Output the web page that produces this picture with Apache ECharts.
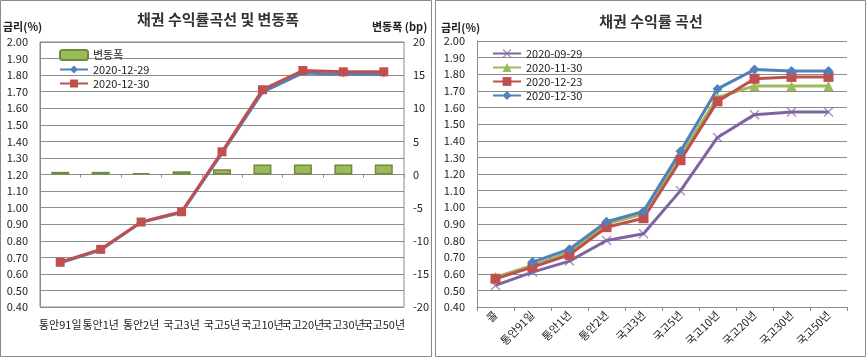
<!DOCTYPE html>
<html><head><meta charset="utf-8">
<script src="https://cdn.jsdelivr.net/npm/echarts@6/dist/echarts.min.js"></script>
<style>html,body{margin:0;padding:0;background:#fff}#c{width:866px;height:358px}</style>
</head><body><div id="c"></div>
<script>
// ---- Left chart data ----
const leftCategories = ['통안91일','통안1년','통안2년','국고3년','국고5년','국고10년','국고20년','국고30년','국고50년'];
const change = [0.4, 0.4, 0.2, 0.5, 0.8, 1.5, 1.5, 1.5, 1.5];
const y1229 = [0.666, 0.744, 0.911, 0.970, 1.329, 1.697, 1.813, 1.805, 1.805];
const y1230 = [0.670, 0.748, 0.913, 0.975, 1.337, 1.712, 1.828, 1.820, 1.820];
// ---- Right chart data ----
const rightCategories = ['콜','통안91일','통안1년','통안2년','국고3년','국고5년','국고10년','국고20년','국고30년','국고50년'];
const r0929 = [0.53, 0.61, 0.676, 0.80, 0.84, 1.10, 1.42, 1.557, 1.573, 1.573];
const r1130 = [0.58, 0.65, 0.73, 0.90, 0.96, 1.31, 1.66, 1.73, 1.73, 1.73];
const r1223 = [0.57, 0.64, 0.714, 0.88, 0.934, 1.283, 1.637, 1.773, 1.784, 1.784];
const r1230 = [null, 0.670, 0.748, 0.913, 0.975, 1.337, 1.712, 1.828, 1.820, 1.820];
const leftTicks = {min:0.4, max:2.0, interval:0.1};
const rightTicks = {min:-20, max:20, interval:5};

const FONT = '"Noto Sans CJK KR", "Noto Sans", sans-serif';
const BLUE='#4F81BD', RED='#C0504D', GREEN='#9BBB59', PURPLE='#8064A2';
const GRID='#8C8C8C';
const xPath = 'path://M0,1L1,0L5,4L9,0L10,1L6,5L10,9L9,10L5,6L1,10L0,9L4,5Z';

const chart = echarts.init(document.getElementById('c'));
chart.setOption({
  animation:false,
  textStyle:{fontFamily:FONT},
  graphic:[
    {type:'rect', shape:{x:0.5,y:0.5,width:431,height:356}, style:{fill:'none',stroke:'#8A8A8A',lineWidth:1}},
    {type:'rect', shape:{x:435.5,y:0.5,width:430,height:356}, style:{fill:'none',stroke:'#8A8A8A',lineWidth:1}},
    {type:'text', x:218, y:12, style:{text:'채권 수익률곡선 및 변동폭', font:'bold 15px '+FONT, fill:'#333', textAlign:'center'}},
    {type:'text', x:651, y:14, style:{text:'채권 수익률 곡선', font:'bold 15px '+FONT, fill:'#333', textAlign:'center'}},
    {type:'text', x:3, y:21, style:{text:'금리(%)', font:'bold 11px '+FONT, fill:'#222'}},
    {type:'text', x:372, y:21, style:{text:'변동폭 (bp)', font:'bold 11px '+FONT, fill:'#222'}},
    {type:'text', x:441, y:22, style:{text:'금리(%)', font:'bold 11px '+FONT, fill:'#222'}}
  ],
  legend:[
    {left:54, top:44, orient:'vertical', itemGap:3, itemWidth:28, itemHeight:10,
     textStyle:{fontSize:11, color:'#222', fontFamily:FONT},
     data:[{name:'변동폭'},{name:'2020-12-29'},{name:'2020-12-30'}]},
    {left:487, top:43, orient:'vertical', itemGap:3, itemWidth:28, itemHeight:11,
     textStyle:{fontSize:11, color:'#222', fontFamily:FONT},
     formatter:n=>n.replace(/^r/,''),
     data:['2020-09-29','2020-11-30','2020-12-23','r2020-12-30'].map(n=>({name:n}))}
  ],
  grid:[
    {left:40, right:462, top:42, bottom:51, show:true, borderColor:GRID, borderWidth:1},
    {left:477, right:19, top:41, bottom:51}
  ],
  xAxis:[
    {type:'category', gridIndex:0, data:leftCategories,
     axisLine:{lineStyle:{color:GRID}}, axisTick:{show:true, length:3, lineStyle:{color:GRID}},
     axisLabel:{interval:0, color:'#222', fontSize:11, margin:12, fontFamily:FONT}},
    {type:'category', gridIndex:1, data:rightCategories,
     axisLine:{lineStyle:{color:GRID}}, axisTick:{show:true, length:4, lineStyle:{color:GRID}},
     axisLabel:{interval:0, rotate:45, color:'#222', fontSize:11, margin:6, fontFamily:FONT}}
  ],
  yAxis:[
    {type:'value', gridIndex:0, min:leftTicks.min, max:leftTicks.max, interval:leftTicks.interval,
     axisLine:{show:true, lineStyle:{color:GRID}}, axisTick:{show:false},
     splitLine:{lineStyle:{color:GRID}},
     axisLabel:{color:'#222', fontSize:11, margin:12, formatter:v=>v.toFixed(2)}},
    {type:'value', gridIndex:0, position:'right', min:rightTicks.min, max:rightTicks.max, interval:rightTicks.interval,
     axisLine:{show:false}, axisTick:{show:false}, splitLine:{show:false},
     axisLabel:{color:'#222', fontSize:11, margin:9}},
    {type:'value', gridIndex:1, min:leftTicks.min, max:leftTicks.max, interval:leftTicks.interval,
     axisLine:{show:true, lineStyle:{color:GRID}}, axisTick:{show:false},
     splitLine:{lineStyle:{color:GRID}},
     axisLabel:{color:'#222', fontSize:11, margin:12, formatter:v=>v.toFixed(2)}}
  ],
  series:[
    {name:'변동폭', type:'bar', xAxisIndex:0, yAxisIndex:1, data:change, barWidth:18,
     itemStyle:{color:GREEN, borderColor:'#6E8B3D', borderWidth:1.5}},
    {name:'2020-12-29', type:'line', xAxisIndex:0, yAxisIndex:0, data:y1229, symbol:'diamond', symbolSize:6,
     lineStyle:{color:BLUE, width:3}, itemStyle:{color:BLUE}},
    {name:'2020-12-30', type:'line', xAxisIndex:0, yAxisIndex:0, data:y1230, symbol:'rect', symbolSize:9,
     lineStyle:{color:RED, width:3}, itemStyle:{color:RED}},
    {name:'2020-09-29', type:'line', xAxisIndex:1, yAxisIndex:2, data:r0929, symbol:xPath, symbolSize:10,
     lineStyle:{color:PURPLE, width:3}, itemStyle:{color:PURPLE, opacity:0.7}},
    {name:'2020-11-30', type:'line', xAxisIndex:1, yAxisIndex:2, data:r1130, symbol:'triangle', symbolSize:10,
     lineStyle:{color:GREEN, width:3}, itemStyle:{color:GREEN}},
    {name:'2020-12-23', type:'line', xAxisIndex:1, yAxisIndex:2, data:r1223, symbol:'rect', symbolSize:10,
     lineStyle:{color:RED, width:3}, itemStyle:{color:RED}},
    {name:'r2020-12-30', type:'line', xAxisIndex:1, yAxisIndex:2, data:r1230, symbol:'diamond', symbolSize:10,
     lineStyle:{color:BLUE, width:3}, itemStyle:{color:BLUE}}
  ]
});
</script></body></html>
